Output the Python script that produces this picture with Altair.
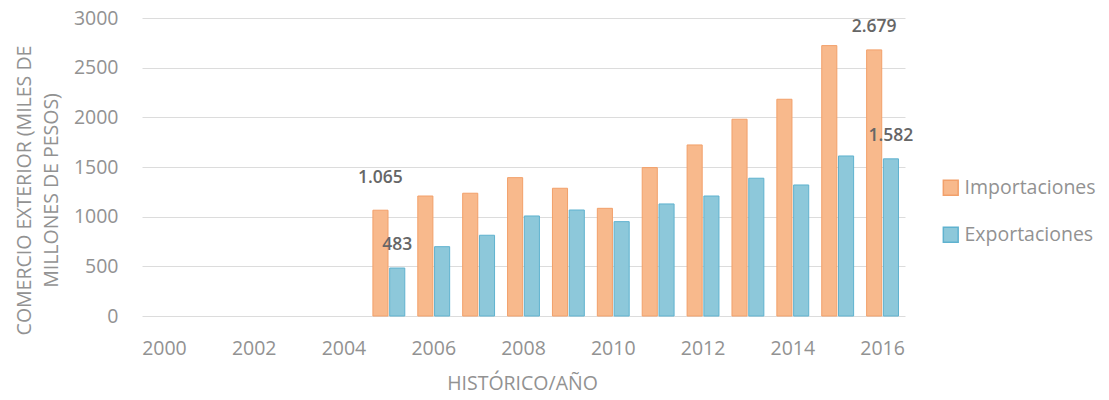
import altair as alt
import pandas as pd

years = [str(y) for y in range(2000, 2017)]
data_years = [str(y) for y in range(2005, 2017)]
importaciones = [1065, 1208, 1236, 1393, 1286, 1084, 1494, 1722, 1981, 2182, 2722, 2679]
exportaciones = [483, 698, 813, 1007, 1067, 950, 1128, 1208, 1387, 1319, 1611, 1582]
series = ["Importaciones", "Exportaciones"]
fills = ["#F8B98C", "#8DC8DA"]
strokes = ["#F2A06A", "#5FB2CF"]

label_years = ["2005", "2005", "2016", "2016"]
label_series = ["Importaciones", "Exportaciones", "Importaciones", "Exportaciones"]
label_values = [1065, 483, 2679, 1582]
label_texts = ["1.065", "483", "2.679", "1.582"]

rows = []
for y, v in zip(data_years, importaciones):
    rows.append({"Año": y, "Serie": "Importaciones", "Valor": v})
for y, v in zip(data_years, exportaciones):
    rows.append({"Año": y, "Serie": "Exportaciones", "Valor": v})
df = pd.DataFrame(rows)

ldf = pd.DataFrame({"Año": label_years, "Serie": label_series,
                    "Valor": label_values, "Texto": label_texts})

FONT = "Open Sans"
GREY = "#929292"

x_enc = alt.X("Año:N", scale=alt.Scale(domain=years, paddingInner=0.29, paddingOuter=0.145),
              axis=alt.Axis(title="HISTÓRICO/AÑO", labelAngle=0,
                            labelExpr="parseInt(datum.value) % 2 == 0 ? datum.value : ''",
                            ticks=False, tickSize=0, domain=False, grid=False,
                            labelPadding=23, labelFontSize=19.5, labelColor=GREY,
                            titleFontSize=19.5, titleColor=GREY, titleFontWeight="normal",
                            titleX=380, titleY=67, titleBaseline="middle"))
xoff = alt.XOffset("Serie:N", scale=alt.Scale(domain=series, paddingInner=0.1))
y_enc = alt.Y("Valor:Q", scale=alt.Scale(domain=[0, 3000]),
              axis=alt.Axis(title=["COMERCIO EXTERIOR (MILES DE", "MILLONES DE PESOS)"],
                            values=[0, 500, 1000, 1500, 2000, 2500, 3000], format="d",
                            ticks=False, tickSize=0, domain=False, gridColor="#dcdcdc",
                            labelPadding=24, labelFontSize=19.5, labelColor=GREY,
                            titleFontSize=19.5, titleColor=GREY, titleFontWeight="normal",
                            titleLineHeight=27, titleX=-127, titleY=172,
                            titleAlign="center", titleBaseline="top", titleAngle=270))

legend_kw = dict(title=None, orient="none", legendX=799, legendY=160,
                 symbolType="square", symbolSize=220, rowPadding=25,
                 labelFontSize=19.5, labelColor=GREY, labelFont=FONT, labelOffset=4)

bars = alt.Chart(df).mark_bar(strokeWidth=1).encode(
    x=x_enc, xOffset=xoff, y=y_enc,
    fill=alt.Fill("Serie:N", scale=alt.Scale(domain=series, range=fills),
                  legend=alt.Legend(**legend_kw)),
    stroke=alt.Stroke("Serie:N", scale=alt.Scale(domain=series, range=strokes),
                      legend=alt.Legend(**legend_kw)),
)

text_base = alt.Chart(ldf).encode(
    x=alt.X("Año:N", scale=alt.Scale(domain=years, paddingInner=0.29, paddingOuter=0.145)),
    xOffset=alt.XOffset("Serie:N", scale=alt.Scale(domain=series, paddingInner=0.1)),
    y=alt.Y("Valor:Q", scale=alt.Scale(domain=[0, 3000])),
    text="Texto:N",
)
t1 = text_base.transform_filter(alt.datum.Texto == "1.065").mark_text(
    font=FONT, fontSize=17.5, fontWeight=600, color="#666666", baseline="middle", dy=-32)
t2 = text_base.transform_filter(alt.datum.Texto != "1.065").mark_text(
    font=FONT, fontSize=17.5, fontWeight=600, color="#666666", baseline="middle", dy=-23)

chart = alt.layer(bars, t1, t2).resolve_scale(x="shared").properties(
    width=763, height=298,
    autosize=alt.AutoSizeParams(type="none"),
    padding={"left": 142, "top": 18, "right": 204, "bottom": 84},
).configure(font=FONT).configure_view(stroke=None)

chart.save("out.html", embed_options={"renderer": "svg", "actions": False})
